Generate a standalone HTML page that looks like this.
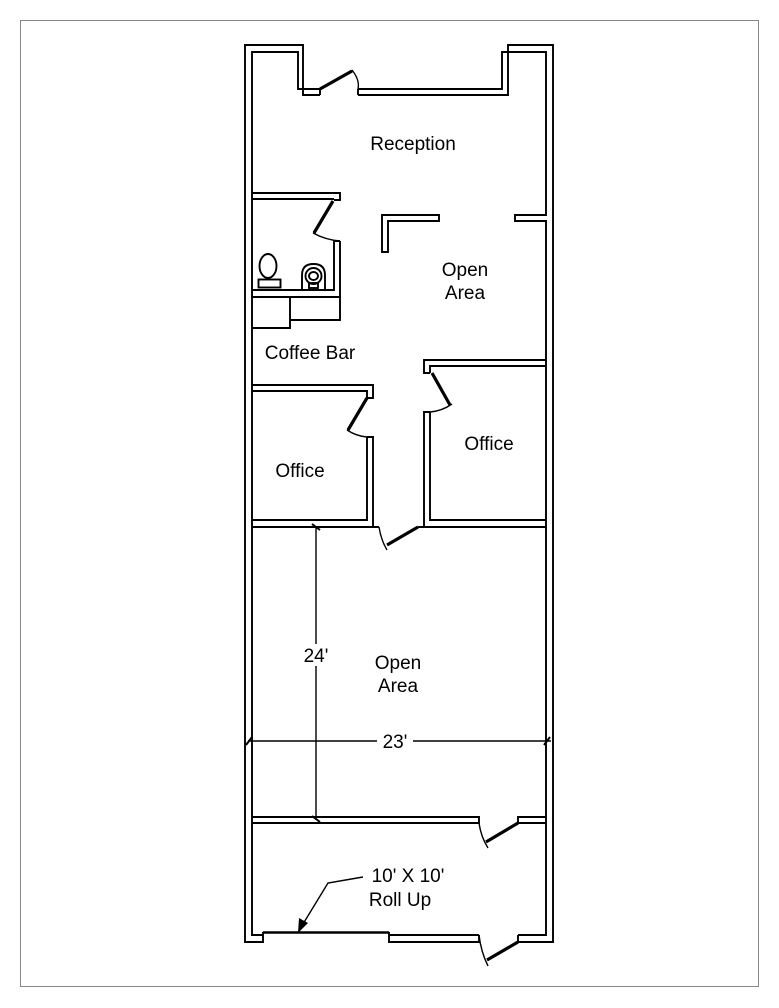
<!DOCTYPE html>
<html><head><meta charset="utf-8"><style>
html,body{margin:0;padding:0;background:#fff;}
svg{display:block;}
text{font-family:"Liberation Sans",Arial,sans-serif;font-size:19px;fill:#000;}
</style></head><body>
<svg width="779" height="1008" viewBox="0 0 779 1008" xmlns="http://www.w3.org/2000/svg">
<rect x="20.5" y="20.5" width="738" height="966" fill="none" stroke="#888" stroke-width="1"/>
<g fill="none" stroke="#000" stroke-width="1.9">
<polyline points="320,95 303,95 303,45 245,45 245,942 263,942 263,932"/>
<polyline points="358,95 508,95 508,45 553,45 553,942 518,942 518,935"/>
<polyline points="389,932 389,942 479,942 479,935"/>
<polyline points="320,89 298,89 298,52 252,52 252,935 263,935"/>
<polyline points="358,89 502,89 502,52 546,52 546,215 515,215 515,221 546,221 546,935 518,935"/>
<line x1="389" y1="935" x2="479" y2="935"/>
<line x1="320" y1="89" x2="320" y2="95"/>
<line x1="358" y1="89" x2="358" y2="95"/>
<line x1="263" y1="932.5" x2="389" y2="932.5" stroke-width="2.4"/>
<polygon points="382,215 439,215 439,221 388,221 388,252 382,252"/>
<polyline points="252,193 340,193 340,200 334,200"/>
<line x1="252" y1="199" x2="334" y2="199"/>
<polyline points="340,241 334,241 334,290 252,290"/>
<polyline points="340,241 340,297 252,297"/>
<polyline points="252,328 290,328 290,297"/>
<polyline points="290,320 340,320 340,297"/>
<polyline points="252,385 373,385 373,398 367,398"/>
<polyline points="252,391 367,391 367,398"/>
<polyline points="367,437 373,437 373,527 379,527"/>
<polyline points="367,437 367,520 252,520"/>
<polyline points="546,360 424,360 424,373 430,373"/>
<polyline points="546,366 430,366 430,373"/>
<polyline points="430,412 424,412 424,527 418,527"/>
<polyline points="430,412 430,520 546,520"/>
<line x1="252" y1="527" x2="373" y2="527"/>
<line x1="424" y1="527" x2="546" y2="527"/>
<polyline points="252,817 479,817 479,823 252,823"/>
<polyline points="546,817 518,817 518,823 546,823"/>
<path d="M352,70 Q360,80 358,89" stroke-width="1.4"/>
<path d="M313,233 Q326,240 340,241" stroke-width="1.4"/>
<path d="M347,430 Q356,436 367,437" stroke-width="1.4"/>
<path d="M452,404 Q442,411 430,412" stroke-width="1.4"/>
<path d="M379,527 Q381,540 387,550" stroke-width="1.4"/>
<path d="M479,823 Q481,837 488,848" stroke-width="1.4"/>
<path d="M479,935 Q481,952 488,966" stroke-width="1.4"/>
<ellipse cx="268" cy="266" rx="8.5" ry="12"/>
<rect x="258.5" y="279.5" width="22" height="8"/>
<path d="M302,289 L302,275 Q302,264 313.5,264 Q325,264 325,275 L325,289"/>
<ellipse cx="313.5" cy="276" rx="8" ry="8"/>
<ellipse cx="313.5" cy="276" rx="4.5" ry="4"/>
<rect x="309" y="283" width="9" height="5"/>
<line x1="316" y1="527" x2="316" y2="820" stroke-width="1.4"/>
<line x1="248" y1="741" x2="551" y2="741" stroke-width="1.4"/>
<line x1="312" y1="524" x2="320" y2="530" stroke-width="2"/>
<line x1="312" y1="816" x2="320" y2="822" stroke-width="2"/>
<line x1="246" y1="745" x2="252" y2="737" stroke-width="2"/>
<line x1="544" y1="745" x2="550" y2="737" stroke-width="2"/>
<polyline points="363,877 328,883 303,924" stroke-width="1.4"/>
</g>
<polygon points="298,933 299,918 308,923" fill="#000"/>
<g stroke="#000" stroke-width="3.2" fill="none">
<line x1="320" y1="89" x2="352" y2="71"/>
<line x1="333" y1="201" x2="314" y2="233"/>
<line x1="367" y1="398" x2="348" y2="430"/>
<line x1="432" y1="373" x2="450" y2="405"/>
<line x1="387" y1="545" x2="418" y2="527"/>
<line x1="486" y1="842" x2="518" y2="823"/>
<line x1="487" y1="960" x2="518" y2="942"/>
</g>
<rect x="301" y="644" width="30" height="22" fill="#fff"/>
<rect x="377" y="731" width="36" height="20" fill="#fff"/>
<g text-anchor="middle">
<text x="413" y="150">Reception</text>
<text x="465" y="276">Open</text>
<text x="465" y="299">Area</text>
<text x="310" y="359">Coffee Bar</text>
<text x="300" y="477">Office</text>
<text x="489" y="450">Office</text>
<text x="398" y="669">Open</text>
<text x="398" y="692">Area</text>
<text x="316" y="662">24'</text>
<text x="395" y="748">23'</text>
<text x="408" y="882">10' X 10'</text>
<text x="400" y="906">Roll Up</text>
</g>
</svg>
</body></html>
